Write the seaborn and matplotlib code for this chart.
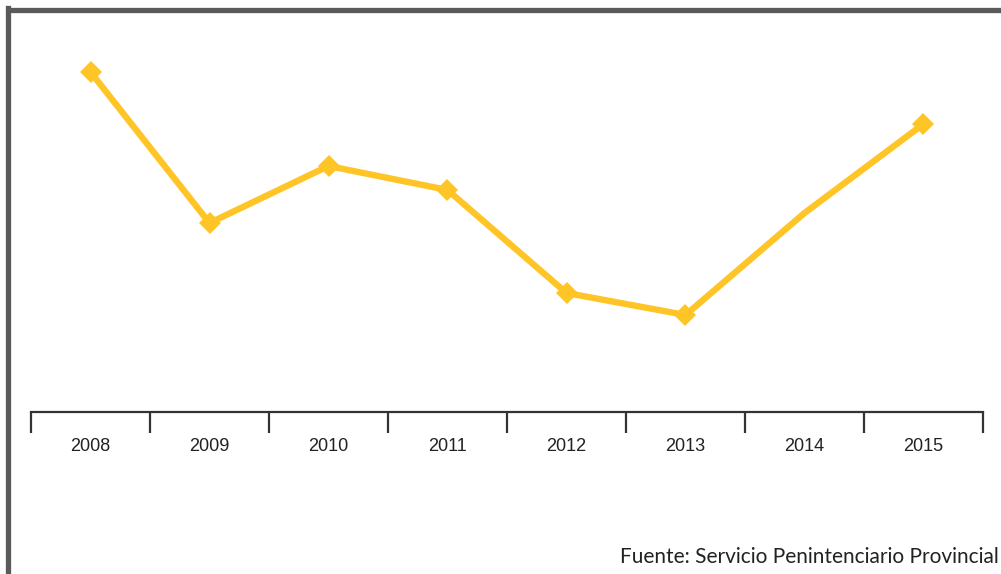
import numpy as np
import pandas as pd
import matplotlib.pyplot as plt
import seaborn as sns
from matplotlib.lines import Line2D
from matplotlib.ticker import FixedLocator

# data (no value axis in the original: heights)
years = ['2008', '2009', '2010', '2011', '2012', '2013', '2014', '2015']
values = [340, 189, 246, 222, 119, 97, 199, 288]
source = 'Fuente: Servicio Penintenciario Provincial'

df = pd.DataFrame({'year': years, 'value': values})

sns.set_style('white')
plt.rcParams['font.family'] = ['Liberation Sans', 'DejaVu Sans']

W, H = 1001, 574
fig = plt.figure(figsize=(W / 100, H / 100), dpi=100)
ax = fig.add_axes([31 / W, (H - 412) / H, 952 / W, 402 / H])

sns.lineplot(data=df, x='year', y='value', ax=ax, color='#FFC526',
             lw=4.6, marker='D', ms=11, mew=0, sort=False,
             markevery=[0, 1, 2, 3, 4, 5, 7])

ax.set_xlim(-0.5, len(years) - 0.5)
ax.set_ylim(0, 402)
ax.set(xlabel=None, ylabel=None, yticks=[])

for s in ['top', 'right', 'left']:
    ax.spines[s].set_visible(False)
ax.spines['bottom'].set_color('#333333')
ax.spines['bottom'].set_linewidth(1.6)

# separators between categories, labels centred
ax.xaxis.set_minor_locator(FixedLocator(np.arange(-0.5, len(years), 1.0)))
ax.tick_params(axis='x', which='minor', length=15, width=1.6,
               color='#333333', direction='out', bottom=True)
ax.tick_params(axis='x', which='major', length=0, pad=19,
               labelsize=13, labelcolor='#222222')

# frame of the picture (left and top border)
fig.add_artist(Line2D([7.5 / W, 7.5 / W], [0, (H - 7.5) / H],
                      transform=fig.transFigure, color='#5a5a5a', lw=3.8,
                      solid_capstyle='projecting'))
fig.add_artist(Line2D([7.5 / W, 1], [(H - 10) / H, (H - 10) / H],
                      transform=fig.transFigure, color='#5a5a5a', lw=3.8))

fig.text(999 / W, 7 / H, source, ha='right', va='bottom', fontsize=15,
         family=['Lato', 'DejaVu Sans'], color='#222222')

plt.savefig('out.png', dpi=100)
